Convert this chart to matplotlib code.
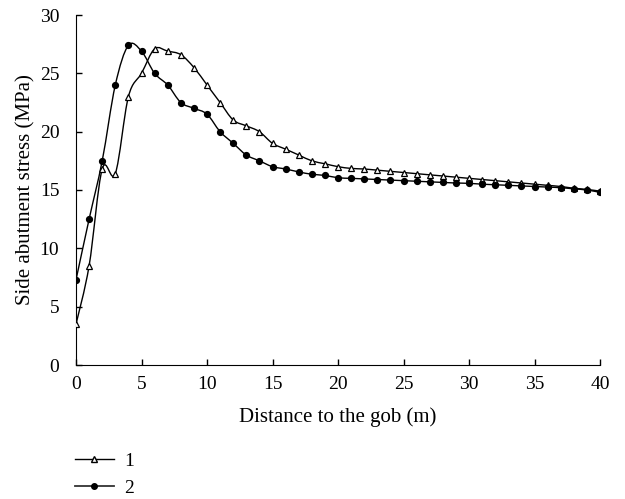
import numpy as np
import matplotlib
matplotlib.use("Agg")
import matplotlib.pyplot as plt
from matplotlib.path import Path
from matplotlib.patches import PathPatch
from matplotlib.lines import Line2D

plt.rcParams['font.family'] = ['Liberation Serif', 'DejaVu Serif']
plt.rcParams['font.size'] = 14

# distance to the gob (m)
distance = list(range(0, 41))

# curve 1 (open triangles)
stress_1 = [3.5, 8.5, 16.8, 16.4, 23.0, 25.0, 27.1, 26.9, 26.6, 25.5,
            24.0, 22.5, 21.0, 20.5, 20.0, 19.0, 18.5, 18.0, 17.5, 17.25,
            17.0, 16.85, 16.8, 16.7, 16.6, 16.5, 16.4, 16.3, 16.2, 16.1,
            16.0, 15.9, 15.8, 15.7, 15.6, 15.5, 15.4, 15.3, 15.15, 15.05,
            14.9]

# curve 2 (filled circles)
stress_2 = [7.3, 12.5, 17.5, 24.0, 27.4, 26.9, 25.0, 24.0, 22.5, 22.0,
            21.5, 20.0, 19.0, 18.0, 17.5, 17.0, 16.8, 16.55, 16.35, 16.25,
            16.05, 16.0, 15.95, 15.9, 15.85, 15.8, 15.75, 15.7, 15.65, 15.6,
            15.57, 15.5, 15.45, 15.4, 15.35, 15.3, 15.25, 15.2, 15.1, 15.0,
            14.8]


def smooth_path(x, y):
    # Bezier path through the points (Catmull-Rom style tangents)
    p = np.column_stack([x, y]).astype(float)
    n = len(p)
    verts = [p[0]]
    codes = [Path.MOVETO]
    for i in range(n - 1):
        p0 = p[i - 1] if i > 0 else p[i]
        p3 = p[i + 2] if i + 2 < n else p[i + 1]
        c1 = p[i] + (p[i + 1] - p0) / 6.0
        c2 = p[i + 1] - (p3 - p[i]) / 6.0
        verts += [c1, c2, p[i + 1]]
        codes += [Path.CURVE4] * 3
    return Path(verts, codes)


fig = plt.figure(figsize=(6.25, 4.99), dpi=100)
ax = fig.add_axes([76 / 625, 1 - 365 / 499, 524 / 625, 350 / 499])

for ys in (stress_1, stress_2):
    ax.add_patch(PathPatch(smooth_path(distance, ys), fill=False,
                           edgecolor='black', lw=1.0, zorder=2))

ax.plot(distance, stress_1, ls='none', marker='^', ms=4.0, mfc='white',
        mec='black', mew=0.9, zorder=3)
ax.plot(distance, stress_2, ls='none', marker='o', ms=4.2, mfc='black',
        mec='black', zorder=3)

ax.set_xlim(0, 40)
ax.set_ylim(0, 30)
ax.set_xticks(range(0, 41, 5))
ax.set_yticks(range(0, 31, 5))
ax.spines['top'].set_visible(False)
ax.spines['right'].set_visible(False)
ax.tick_params(direction='in', length=4, width=1, labelsize=14)
ax.tick_params(axis='y', pad=12)
ax.tick_params(axis='x', pad=8)
ax.set_xlabel('Distance to the gob (m)', fontsize=15, labelpad=10)
ax.set_ylabel('Side abutment stress (MPa)', fontsize=15, labelpad=3)

handles = [
    Line2D([], [], color='black', lw=1.0, marker='^', ms=4, mfc='white', mec='black'),
    Line2D([], [], color='#333333', lw=1.3, marker='o', ms=4, mfc='black', mec='black'),
]
fig.legend(handles, ['1', '2'], loc='upper left',
           bbox_to_anchor=(75 / 625, 1 - 452 / 499), frameon=False,
           handlelength=2.0, handletextpad=0.55, labelspacing=0.5,
           borderpad=0, borderaxespad=0, fontsize=14)

fig.savefig('out.png', dpi=100)
